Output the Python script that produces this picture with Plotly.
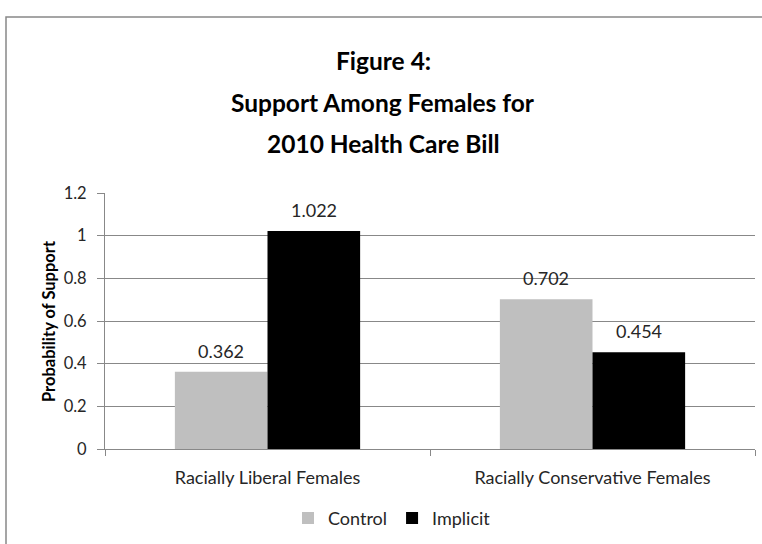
import plotly.graph_objects as go

categories = ["Racially Liberal Females", "Racially Conservative Females"]
control = [0.362, 0.702]
implicit = [1.022, 0.454]
series_names = ["Control", "Implicit"]
title_lines = ["Figure 4:", "Support Among Females for", "2010 Health Care Bill"]
y_title = "Probability of Support"

W, H = 762, 544
L, R, T, B = 105, 7, 193, 92
pw, ph = W - L - R, H - T - B
BARGAP = 0.43

font = "Lato, Open Sans, sans-serif"
txt = "#262626"

fig = go.Figure()
series = [(series_names[0], control, "#BFBFBF"), (series_names[1], implicit, "#000000")]
for name, vals, col in series:
    fig.add_trace(go.Bar(name=name, x=categories, y=vals,
                         marker=dict(color=col, line=dict(width=0))))

def px(x):
    return (x - L) / pw

def py(y):
    return (H - B - y) / ph

annotations = []
# data labels, placed from the data values with the grouped-bar offset
bar_px = pw / len(categories) * (1 - BARGAP) / len(series)
for si, (name, vals, col) in enumerate(series):
    off = (si - (len(series) - 1) / 2) * bar_px
    for cat, v in zip(categories, vals):
        annotations.append(dict(text=f"{v:g}", xref="x", yref="y", x=cat, y=v, xshift=off, yshift=21,
                                xanchor="center", yanchor="middle", showarrow=False,
                                font=dict(family=font, size=18, color=txt)))

for i, line in enumerate(title_lines):
    annotations.append(dict(text=f"<b>{line}</b>", xref="paper", yref="paper", x=px(383), y=py(59 + 42 * i),
                            xanchor="center", yanchor="middle", showarrow=False,
                            font=dict(family=font, size=24.5, color="#000000")))
annotations.append(dict(text=f"<b>{y_title}</b>", xref="paper", yref="paper", x=px(49), y=0.5,
                        xanchor="center", yanchor="middle", showarrow=False, textangle=-90,
                        font=dict(family=font, size=16.5, color="#000000")))

fig.update_layout(
    width=W, height=H,
    margin=dict(l=L, r=R, t=T, b=B),
    paper_bgcolor="white", plot_bgcolor="white",
    barmode="group", bargap=BARGAP, bargroupgap=0,
    showlegend=True,
    legend=dict(orientation="h", x=px(392), xanchor="center", y=py(522), yanchor="middle",
                font=dict(family=font, size=18, color=txt), traceorder="normal",
                itemwidth=30),
    xaxis=dict(showline=True, linecolor="#888888", linewidth=1, ticks="outside", tickson="boundaries",
               ticklen=6, tickcolor="#888888", tickfont=dict(family=font, size=18, color=txt),
               showgrid=False, ticklabelstandoff=12),
    yaxis=dict(range=[0, 1.2], dtick=0.2, showline=True, linecolor="#888888", linewidth=1,
               ticks="outside", ticklen=7, tickcolor="#888888", gridcolor="#888888", gridwidth=1,
               tickfont=dict(family=font, size=16.5, color=txt), zeroline=False, ticklabelstandoff=7),
    annotations=annotations,
    shapes=[dict(type="rect", xref="paper", yref="paper", x0=px(6), x1=px(900), y0=py(700), y1=py(15),
                 line=dict(color="#888888", width=1.5), fillcolor="rgba(0,0,0,0)", layer="below")],
)

fig.write_html("out.html", config={"displayModeBar": False},
               post_script="document.body.style.margin='0';")
